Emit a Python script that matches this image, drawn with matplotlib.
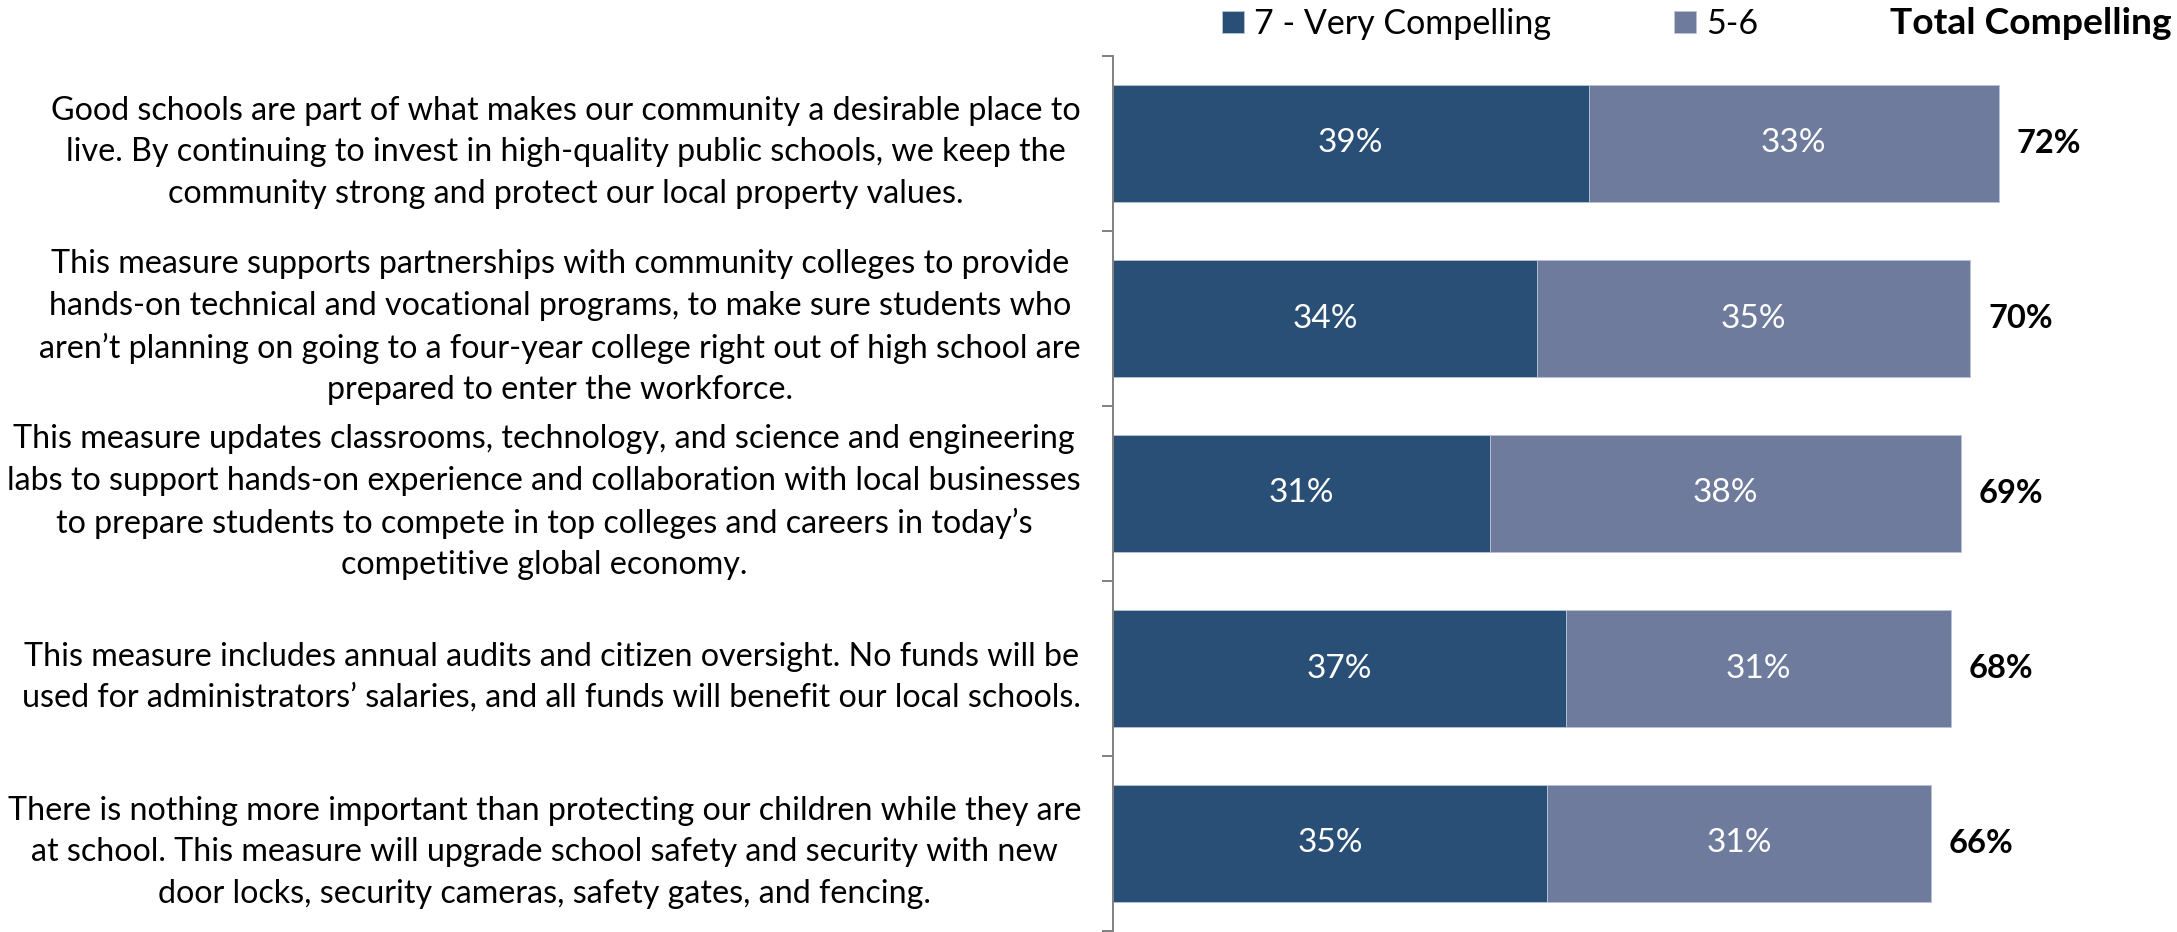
import matplotlib
matplotlib.use('Agg')
import matplotlib.pyplot as plt

# ── Data ────────────────────────────────────────────────────────────────────
statements = [
    'Good schools are part of what makes our community a desirable place to\n'
    'live. By continuing to invest in high-quality public schools, we keep the\n'
    'community strong and protect our local property values.',
    'This measure supports partnerships with community colleges to provide\n'
    'hands-on technical and vocational programs, to make sure students who\n'
    'aren\u2019t planning on going to a four-year college right out of high school are\n'
    'prepared to enter the workforce.',
    'This measure updates classrooms, technology, and science and engineering\n'
    'labs to support hands-on experience and collaboration with local businesses\n'
    'to prepare students to compete in top colleges and careers in today\u2019s\n'
    'competitive global economy.',
    'This measure includes annual audits and citizen oversight. No funds will be\n'
    'used for administrators\u2019 salaries, and all funds will benefit our local schools.',
    'There is nothing more important than protecting our children while they are\n'
    'at school. This measure will upgrade school safety and security with new\n'
    'door locks, security cameras, safety gates, and fencing.',
]
very_compelling = [38.6, 34.4, 30.6, 36.8, 35.2]
somewhat = [33.3, 35.2, 38.2, 31.2, 31.2]
series_names = ['7 - Very Compelling', '5-6']

total = [a + b for a, b in zip(very_compelling, somewhat)]

DARK = '#2A4F77'
LIGHT = '#6E7B9C'
FONT = 'Lato'

W, H = 2177, 932
fig = plt.figure(figsize=(W / 100, H / 100), dpi=100)
fig.patch.set_facecolor('white')
ax = fig.add_axes([1113 / W, 1 / H, 1064 / W, 875 / H])

pos = list(range(len(statements)))
b1 = ax.barh(pos, very_compelling, height=0.67, color=DARK,
             edgecolor='#B8C4D6', linewidth=0.6, label=series_names[0])
b2 = ax.barh(pos, somewhat, left=very_compelling, height=0.67, color=LIGHT,
             edgecolor='#B8C4D6', linewidth=0.6, label=series_names[1])

ax.bar_label(b1, labels=[f'{v:.0f}%' for v in very_compelling], label_type='center',
             color='white', fontsize=24, family=FONT)
ax.bar_label(b2, labels=[f'{v:.0f}%' for v in somewhat], label_type='center',
             color='white', fontsize=24, family=FONT)
ax.bar_label(b2, labels=[f'{v:.0f}%' for v in total], padding=13,
             color='black', fontsize=23.5, fontweight='bold', family=FONT)

ax.set_xlim(0, 1064 / 12.32)
ax.set_ylim(len(pos) - 0.5, -0.5)

# category boundary ticks (Excel style) + centred labels on minor ticks
ax.set_yticks([p - 0.5 for p in pos] + [len(pos) - 0.5])
ax.set_yticklabels([])
ax.tick_params(axis='y', which='major', length=8, width=1.4, color='#808080')
ax.set_yticks(pos, minor=True)
ax.set_yticklabels(statements, minor=True, fontsize=23.2, family=FONT,
                   multialignment='center', linespacing=1.48)
ax.tick_params(axis='y', which='minor', length=0, pad=23)
ax.set_xticks([])

for s in ['top', 'right', 'bottom']:
    ax.spines[s].set_visible(False)
ax.spines['left'].set_color('#808080')
ax.spines['left'].set_linewidth(1.4)

# legend + header
fig.legend(handles=[b1, b2], loc='center left', bbox_to_anchor=(1222 / W, 1 - 24 / H),
           ncol=2, frameon=False, handlelength=0.65, handleheight=0.65,
           handletextpad=0.3, columnspacing=3.6, borderaxespad=0, borderpad=0,
           prop={'family': FONT, 'size': 24.5})
fig.text(2172 / W, 1 - 24 / H, 'Total Compelling', ha='right', va='center',
         fontsize=26.8, fontweight='bold', family=FONT)

plt.savefig('out.png', dpi=100, facecolor='white')
